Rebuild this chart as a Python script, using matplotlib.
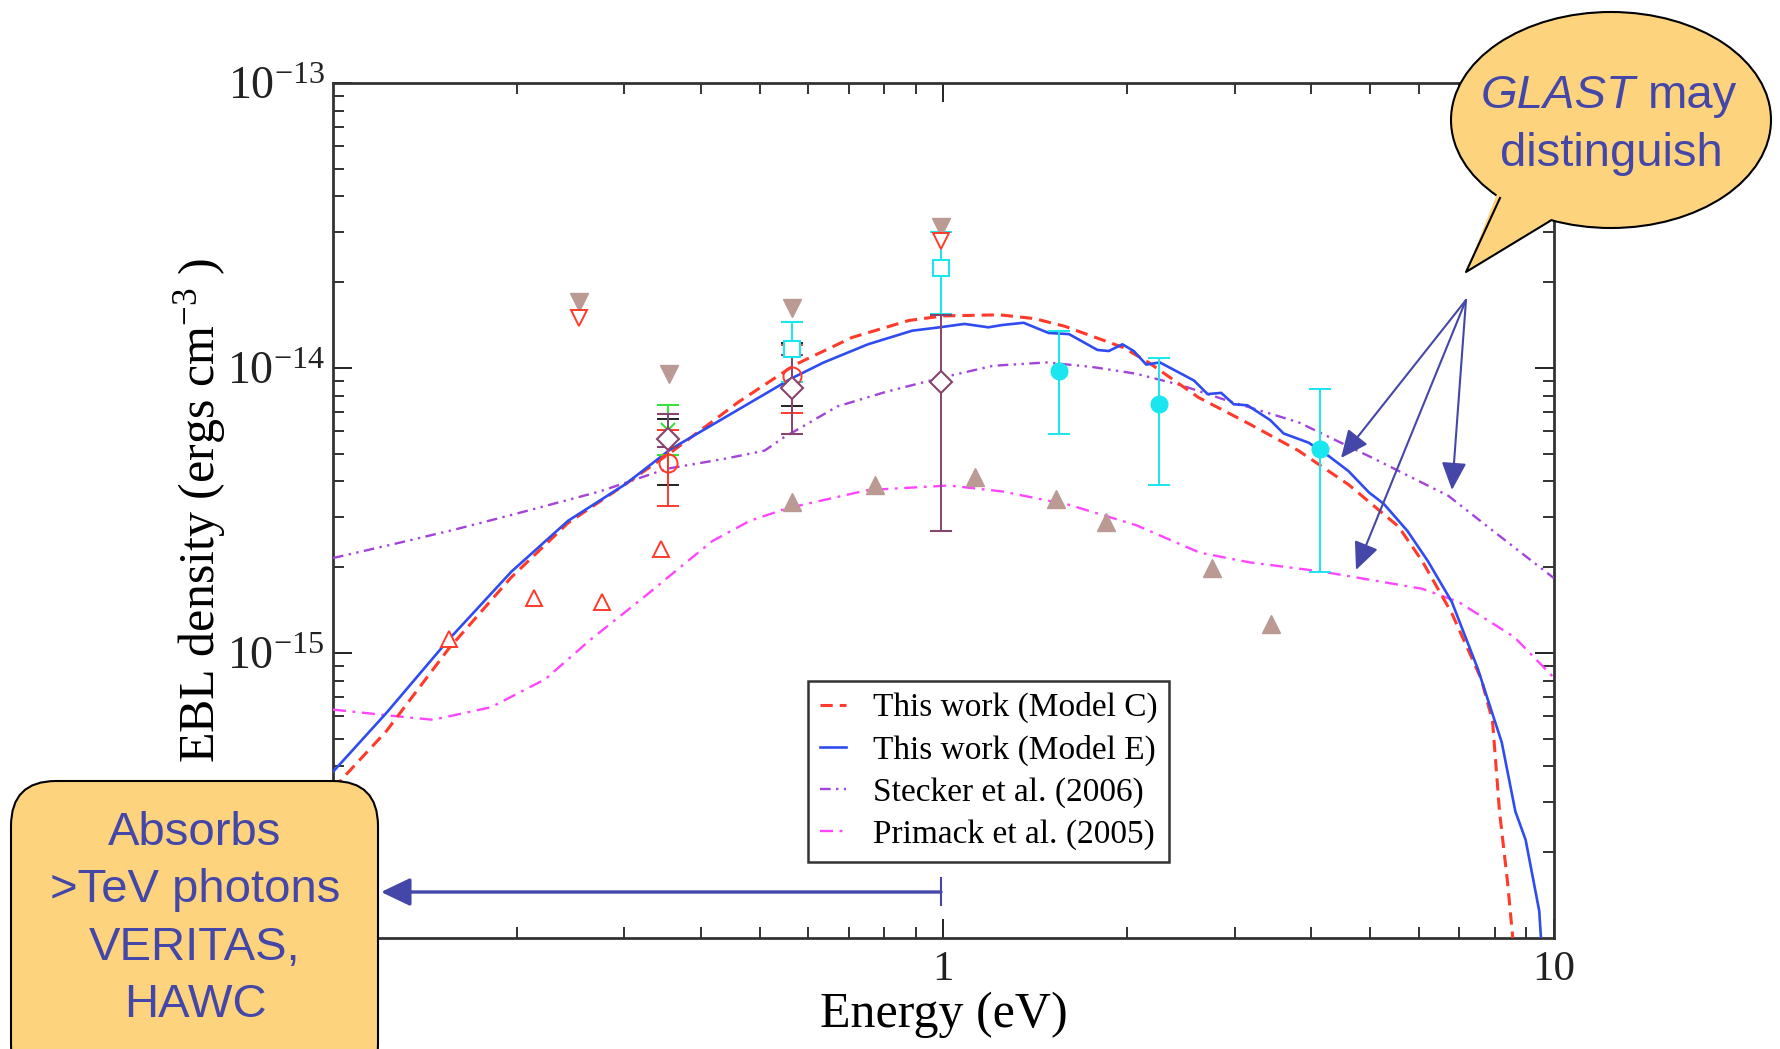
import numpy as np
import matplotlib
matplotlib.use("Agg")
import matplotlib.pyplot as plt
import matplotlib.transforms as mtransforms
from matplotlib.patches import Ellipse, FancyBboxPatch, Polygon, FancyArrowPatch
from matplotlib.lines import Line2D
from matplotlib.ticker import FixedLocator, FixedFormatter, LogLocator, NullFormatter

plt.rcParams["font.family"] = ["Liberation Serif", "DejaVu Serif"]
plt.rcParams["mathtext.fontset"] = "custom"
plt.rcParams["mathtext.rm"] = "Liberation Serif"
plt.rcParams["mathtext.it"] = "Liberation Serif:italic"

# ---------------- model curves: energy (eV), EBL density (erg cm^-3) ----------------
model_c_energy = [0.100, 0.1223, 0.1548, 0.196, 0.2427, 0.3007, 0.3569, 0.4616, 0.5718,
                  0.7084, 0.8776, 0.998, 1.236, 1.41, 1.578, 1.972, 2.167, 2.617, 3.158,
                  3.814, 4.606, 5.56, 6.085, 6.803, 7.60, 7.93, 8.142, 8.39, 8.60]
model_c_density = [3.34e-16, 5.32e-16, 1.037e-15, 1.845e-15, 2.86e-15, 3.90e-15, 5.04e-15,
                   7.60e-15, 1.028e-14, 1.28e-14, 1.468e-14, 1.523e-14, 1.537e-14, 1.49e-14,
                   1.402e-14, 1.179e-14, 1.046e-14, 7.88e-15, 6.39e-15, 5.13e-15, 3.90e-15,
                   2.78e-15, 2.10e-15, 1.377e-15, 8.10e-16, 5.78e-16, 2.78e-16, 1.58e-16, 9.0e-17]

model_e_energy = [0.100, 0.1223, 0.1548, 0.196, 0.2427, 0.3007, 0.3569, 0.4537, 0.5646,
                  0.6366, 0.752, 0.8888, 0.9852, 1.0825, 1.1844, 1.2467, 1.3529, 1.4866,
                  1.6056, 1.7869, 1.8651, 1.9634, 2.0494, 2.1485, 2.2618, 2.5717, 2.7077,
                  2.8504, 2.9875, 3.1463, 3.4272, 3.6075, 3.9638, 4.2804, 4.6056, 4.9756,
                  5.26, 5.7544, 6.2158, 6.803, 7.503, 8.211, 8.644, 8.985, 9.458, 9.55]
model_e_density = [3.83e-16, 6.16e-16, 1.116e-15, 1.93e-15, 2.91e-15, 3.90e-15, 5.18e-15,
                   7.00e-15, 9.21e-15, 1.046e-14, 1.211e-14, 1.352e-14, 1.389e-14, 1.428e-14,
                   1.389e-14, 1.415e-14, 1.441e-14, 1.327e-14, 1.315e-14, 1.157e-14, 1.147e-14,
                   1.211e-14, 1.147e-14, 1.028e-14, 1.046e-14, 9.04e-15, 8.10e-15, 8.18e-15,
                   7.46e-15, 7.40e-15, 6.57e-15, 5.89e-15, 5.47e-15, 4.90e-15, 4.35e-15,
                   3.66e-15, 3.34e-15, 2.68e-15, 2.10e-15, 1.51e-15, 8.80e-16, 4.86e-16,
                   2.78e-16, 2.21e-16, 1.245e-16, 9.0e-17]

stecker_energy = [0.100, 0.1277, 0.1582, 0.196, 0.2737, 0.3524, 0.4422, 0.5093, 0.5456,
                  0.6699, 0.8054, 0.9852, 1.205, 1.474, 1.749, 2.067, 2.443, 2.887, 3.814,
                  5.06, 6.714, 8.04, 10.0]
stecker_density = [2.154e-15, 2.43e-15, 2.71e-15, 3.05e-15, 3.69e-15, 4.43e-15, 4.82e-15,
                   5.13e-15, 5.68e-15, 7.33e-15, 8.25e-15, 9.21e-15, 1.018e-14, 1.046e-14,
                   1.009e-14, 9.55e-15, 8.72e-15, 7.74e-15, 6.45e-15, 4.82e-15, 3.56e-15,
                   2.63e-15, 1.83e-15]

primack_energy = [0.100, 0.1223, 0.1458, 0.1814, 0.2228, 0.2644, 0.3275, 0.3726, 0.4182,
                  0.4818, 0.5548, 0.752, 1.0195, 1.247, 1.606, 2.067, 2.628, 3.172, 4.174,
                  6.085, 6.979, 8.61, 10.0]
primack_density = [6.33e-16, 6.05e-16, 5.83e-16, 6.45e-16, 8.10e-16, 1.116e-15, 1.608e-15,
                   2.02e-15, 2.47e-15, 2.91e-15, 3.22e-15, 3.73e-15, 3.87e-15, 3.69e-15,
                   3.31e-15, 2.81e-15, 2.25e-15, 2.08e-15, 1.93e-15, 1.68e-15, 1.51e-15,
                   1.137e-15, 8.18e-16]

# ---------------- measurements ----------------
brown_down_e = [0.2533, 0.3553, 0.5646, 0.989]
brown_down_y = [1.70e-14, 9.55e-15, 1.62e-14, 3.13e-14]

red_down_e = [0.2533, 0.989]
red_down_y = [1.50e-14, 2.78e-14]

red_up_e = [0.1548, 0.2135, 0.2760, 0.3449]
red_up_y = [1.117e-15, 1.56e-15, 1.51e-15, 2.32e-15]

brown_up_e = [0.5646, 0.7717, 1.125, 1.531, 1.849, 2.754, 3.441]
brown_up_y = [3.40e-15, 3.90e-15, 4.16e-15, 3.47e-15, 2.89e-15, 1.98e-15, 1.26e-15]

cyan_circle_e = [1.544, 2.253, 4.138]
cyan_circle_y = [9.73e-15, 7.46e-15, 5.18e-15]
cyan_circle_hi = [1.352e-14, 1.086e-14, 8.41e-15]
cyan_circle_lo = [5.89e-15, 3.90e-15, 1.93e-15]

cyan_square_e = [0.5646, 0.989]
cyan_square_y = [1.167e-14, 2.25e-14]
cyan_square_hi = [1.455e-14, 2.99e-14]
cyan_square_lo = [8.95e-15, 1.55e-14]

diamond_e = [0.3539, 0.5646, 0.989]
diamond_y = [5.62e-15, 8.49e-15, 8.95e-15]
diamond_hi = [6.87e-15, 1.107e-14, 1.54e-14]
diamond_lo = [5.27e-15, 5.89e-15, 2.69e-15]

red_circle_e = [0.3539, 0.5646]
red_circle_y = [4.65e-15, 9.37e-15]
red_circle_hi = [6.05e-15, 1.20e-14]
red_circle_lo = [3.28e-15, 6.94e-15]

black_e = [0.3539, 0.5646]
black_y = [5.1e-15, 9.4e-15]
black_hi = [6.62e-15, 1.22e-14]
black_lo = [3.90e-15, 7.33e-15]

green_e = [0.3539]
green_y = [6.05e-15]
green_hi = [7.40e-15]
green_lo = [4.94e-15]

x_ticks = [1, 10]
x_ticklabels = ["1", "10"]
y_ticks = [1e-15, 1e-14, 1e-13]
y_ticklabels = [r"$10^{-15}$", r"$10^{-14}$", r"$10^{-13}$"]

legend_labels = ["This work (Model C)", "This work (Model E)",
                 "Stecker et al. (2006)", "Primack et al. (2005)"]

# ---------------- colours ----------------
C_RED = "#ff3a2a"
C_BLUE = "#2f4cf0"
C_PURPLE = "#a443dc"
C_MAGENTA = "#ff45ff"
C_BROWN = "#bb9a94"
C_CYAN = "#19e6ee"
C_MAROON = "#86446e"
C_GREEN = "#3ce03c"
C_NOTE = "#4447a8"
C_FILL = "#fdd47d"

W, H = 1781, 1049
fig = plt.figure(figsize=(W / 100, H / 100), dpi=100)
ax = fig.add_axes([333 / W, 1 - 938 / H, (1554 - 333) / W, (938 - 83) / H])


def err(y, lo, hi):
    y, lo, hi = map(np.asarray, (y, lo, hi))
    return np.vstack([y - lo, hi - y])


# model curves
l_c, = ax.plot(model_c_energy, model_c_density, color=C_RED, lw=2.2,
               dashes=(4, 2.3), zorder=4)
l_e, = ax.plot(model_e_energy, model_e_density, color=C_BLUE, lw=1.9, zorder=4)
l_s, = ax.plot(stecker_energy, stecker_density, color=C_PURPLE, lw=1.7,
               dashes=(4.5, 2.3, 1, 2.3, 1, 2.3), zorder=3)
l_p, = ax.plot(primack_energy, primack_density, color=C_MAGENTA, lw=1.7,
               dashes=(5.5, 2.8, 1.2, 2.8), zorder=3)

eb_kw = dict(capsize=8, elinewidth=1.4, capthick=1.4, linestyle="none", zorder=5)

ax.errorbar(black_e, black_y, yerr=err(black_y, black_lo, black_hi), fmt="none",
            ecolor="#222222", **eb_kw)
ax.errorbar(green_e, green_y, yerr=err(green_y, green_lo, green_hi), fmt="x",
            color=C_GREEN, ms=10, mew=1.5, **eb_kw)
ax.errorbar(red_circle_e, red_circle_y, yerr=err(red_circle_y, red_circle_lo, red_circle_hi),
            fmt="o", mfc="none", mec=C_RED, ecolor=C_RED, ms=13, mew=1.4, **eb_kw)
ax.errorbar(cyan_square_e, cyan_square_y, yerr=err(cyan_square_y, cyan_square_lo, cyan_square_hi),
            fmt="s", mfc="white", mec=C_CYAN, ecolor=C_CYAN, ms=11, mew=1.5, **eb_kw)
ax.errorbar(diamond_e, diamond_y, yerr=err(diamond_y, diamond_lo, diamond_hi),
            fmt="D", mfc="white", mec=C_MAROON, ecolor=C_MAROON, ms=11, mew=1.5, **eb_kw)
ax.errorbar(cyan_circle_e, cyan_circle_y, yerr=err(cyan_circle_y, cyan_circle_lo, cyan_circle_hi),
            fmt="o", color=C_CYAN, ms=12, **eb_kw)

ax.plot(brown_down_e, brown_down_y, "v", color=C_BROWN, ms=13, ls="none", zorder=6)
ax.plot(red_down_e, red_down_y, "v", mfc="white", mec=C_RED, ms=12, mew=1.4, ls="none", zorder=6)
ax.plot(red_up_e, red_up_y, "^", mfc="white", mec=C_RED, ms=12, mew=1.4, ls="none", zorder=6)
ax.plot(brown_up_e, brown_up_y, "^", color=C_BROWN, ms=13, ls="none", zorder=6)

# axes formatting
ax.set_xscale("log")
ax.set_yscale("log")
ax.set_xlim(0.1, 10)
ax.set_ylim(1e-16, 1e-13)
ax.xaxis.set_major_locator(FixedLocator(x_ticks))
ax.xaxis.set_major_formatter(FixedFormatter(x_ticklabels))
ax.xaxis.set_minor_locator(LogLocator(base=10, subs=np.arange(2, 10)))
ax.xaxis.set_minor_formatter(NullFormatter())
ax.yaxis.set_major_locator(FixedLocator(y_ticks))
ax.yaxis.set_major_formatter(FixedFormatter(y_ticklabels))
ax.yaxis.set_minor_locator(LogLocator(base=10, subs=np.arange(2, 10)))
ax.yaxis.set_minor_formatter(NullFormatter())
ax.tick_params(which="both", direction="in", top=True, right=True, colors="#222222")
ax.tick_params(which="major", length=14, width=1.4)
ax.tick_params(which="minor", length=8, width=1.3)
ax.tick_params(axis="x", which="major", pad=9, labelsize=31)
ax.tick_params(axis="y", which="major", pad=6, labelsize=33)
for sp in ax.spines.values():
    sp.set_linewidth(2.0)
    sp.set_color("#333333")

ax.set_xlabel("Energy (eV)", fontsize=36)
ax.set_ylabel(r"EBL density (ergs cm$^{-3}$ )", fontsize=36)
ax.xaxis.set_label_coords(0.5, -0.062)
ax.yaxis.set_label_coords(-0.086, 0.5)

leg = ax.legend([l_c, l_e, l_s, l_p], legend_labels, loc="lower left",
                bbox_to_anchor=(0.389, 0.089), borderaxespad=0, fontsize=24,
                handlelength=0.8, handletextpad=0.8, labelspacing=0.34,
                borderpad=0.35, fancybox=False, framealpha=1)
leg.get_frame().set_edgecolor("#333333")
leg.get_frame().set_linewidth(1.8)

# ---------------- annotations (pixel coordinates, origin top-left) ----------------
px = mtransforms.Affine2D().scale(1 / W, -1 / H).translate(0, 1) + fig.transFigure
pxu = mtransforms.Affine2D().scale(1 / W, 1 / H) + fig.transFigure

# speech bubble
fig.add_artist(Ellipse((1611, 120), 320, 216, transform=px, facecolor=C_FILL,
                       edgecolor="black", lw=1.5, zorder=10))
fig.add_artist(Polygon([(1497, 194), (1466, 272), (1553, 218), (1540, 200), (1515, 196)],
                       closed=True, transform=px, facecolor=C_FILL, edgecolor="none", zorder=11))
fig.add_artist(Line2D([1500, 1466, 1550], [198, 272, 221], transform=px, color="black",
                      lw=1.5, zorder=12))
note_font = dict(family=["Liberation Sans", "DejaVu Sans"], fontsize=34, color=C_NOTE, zorder=13)
fig.text(1636, 108, "GLAST", transform=px, ha="right", va="baseline", style="italic", **note_font)
fig.text(1648, 108, "may", transform=px, ha="left", va="baseline", **note_font)
fig.text(1611, 166, "distinguish", transform=px, ha="center", va="baseline", **note_font)

for tip in [(1341, 458), (1356, 570), (1452, 490)]:
    fig.add_artist(FancyArrowPatch((1466, 300), tip, transform=px,
                                   arrowstyle="-|>,head_length=1.0,head_width=0.45",
                                   mutation_scale=17, lw=1.5, color=C_NOTE,
                                   shrinkA=0, shrinkB=0, zorder=13))

# lower-left box
fig.add_artist(FancyBboxPatch((11, -40), 367, 308, boxstyle="round,pad=0,rounding_size=45",
                              transform=pxu, facecolor=C_FILL, edgecolor="black",
                              lw=1.5, zorder=10))
for txt, yb in zip(["Absorbs", ">TeV photons", "VERITAS,", "HAWC"], [845, 902, 960, 1017]):
    fig.text(195, yb, txt, transform=px, ha="center", va="baseline", **note_font)

fig.add_artist(FancyArrowPatch((941, 892), (381, 892), transform=px,
                               arrowstyle="-|>,head_length=0.9,head_width=0.43",
                               mutation_scale=20, lw=2.4, color=C_NOTE,
                               shrinkA=0, shrinkB=0, zorder=13))
fig.add_artist(Line2D([941, 941], [878, 905], transform=px, color=C_NOTE, lw=1.5, zorder=13))

fig.savefig("out.png", dpi=100, facecolor="white")
